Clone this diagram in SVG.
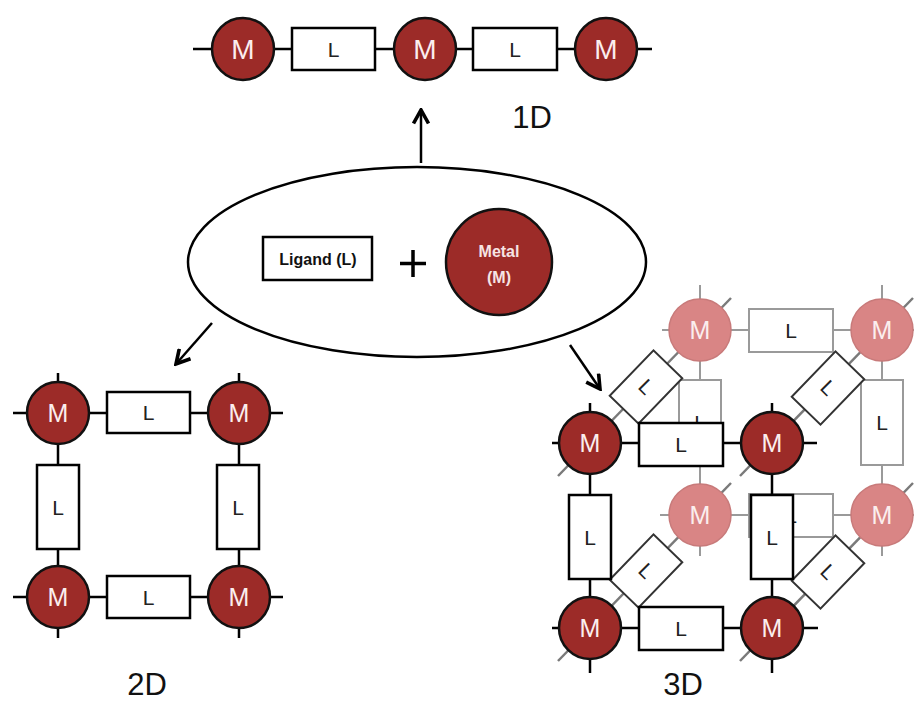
<svg xmlns="http://www.w3.org/2000/svg" width="914" height="702" viewBox="0 0 914 702">
<defs>
<style>
.bg{fill:#fff}
.blk{stroke:#000;stroke-width:2.5;fill:none}
.gry{stroke:#9a9a9a;stroke-width:2;fill:none}
.dg{stroke:#7a7a7a;stroke-width:2.5;fill:none}
.rf{fill:#fff;stroke:#000;stroke-width:2.5}
.rb{fill:#fff;stroke:#9a9a9a;stroke-width:2}
.rd{fill:#fff;stroke:#333;stroke-width:2}
.mf{fill:#9c2b28;stroke:#111;stroke-width:2.5}
.mb{fill:#d98585;stroke:#c87a7a;stroke-width:1.5}
.tm{font-family:"Liberation Sans",Arial,sans-serif;font-size:25px;fill:#fbeeee;text-anchor:middle}
.tm1{font-family:"Liberation Sans",Arial,sans-serif;font-size:28px;fill:#fbeeee;text-anchor:middle}
.tl{font-family:"Liberation Sans",Arial,sans-serif;font-size:21px;fill:#222;text-anchor:middle}
.lab{font-family:"Liberation Sans",Arial,sans-serif;font-size:31px;fill:#111;text-anchor:middle}
.bold{font-family:"Liberation Sans",Arial,sans-serif;font-weight:bold;font-size:16px;text-anchor:middle}
</style>
<marker id="ah" viewBox="0 0 12 12" refX="10.5" refY="6" markerWidth="18" markerHeight="18" markerUnits="userSpaceOnUse" orient="auto">
<path d="M1.5,1 L10.5,6 L1.5,11" fill="none" stroke="#000" stroke-width="2.4"/>
</marker>
</defs>
<rect class="bg" x="0" y="0" width="914" height="702"/>

<g id="connectors">
<line class="blk" x1="421" y1="163" x2="421" y2="110" marker-end="url(#ah)" stroke-width="3"/>
<line class="blk" x1="212" y1="323" x2="176" y2="364" marker-end="url(#ah)" stroke-width="3"/>
<line class="blk" x1="570" y1="345" x2="600" y2="389" marker-end="url(#ah)" stroke-width="3"/>
</g>

<g id="source">
<ellipse cx="417" cy="262" rx="229" ry="95" fill="#fff" stroke="#000" stroke-width="2.5"/>
<g id="ligand">
<rect x="263" y="237" width="109" height="43" fill="#fff" stroke="#000" stroke-width="2.5"/>
<text class="bold" x="318" y="265" fill="#111">Ligand (L)</text>
</g>
<g id="plus"><path d="M400,263.5 H426 M413,250 V277" stroke="#000" stroke-width="3.5"/></g>
<g id="metal">
<circle cx="499" cy="262" r="53" class="mf"/>
<text class="bold" x="499" y="257" fill="#f6e4e4">Metal</text>
<text class="bold" x="499" y="283" fill="#f6e4e4">(M)</text>
</g>
</g>

<g id="chain1D">
<line class="blk" x1="193" y1="49" x2="652" y2="49"/>
<rect class="rf" x="292" y="28" width="83" height="42"/>
<rect class="rf" x="473" y="28" width="84" height="42"/>
<text class="tl" x="333.5" y="57">L</text>
<text class="tl" x="515" y="57">L</text>
<circle class="mf" cx="243" cy="49" r="31"/>
<circle class="mf" cx="425" cy="49" r="31"/>
<circle class="mf" cx="606" cy="49" r="31"/>
<text class="tm1" x="243" y="59">M</text>
<text class="tm1" x="425" y="59">M</text>
<text class="tm1" x="606" y="59">M</text>
<text class="lab" x="532" y="128">1D</text>
</g>

<g id="grid2D">
<line class="blk" x1="13" y1="413" x2="283" y2="413"/>
<line class="blk" x1="13" y1="597" x2="283" y2="597"/>
<line class="blk" x1="58" y1="373" x2="58" y2="638"/>
<line class="blk" x1="239" y1="373" x2="239" y2="638"/>
<rect class="rf" x="107" y="392" width="83" height="41"/>
<rect class="rf" x="107" y="576" width="83" height="42"/>
<rect class="rf" x="37" y="465" width="42" height="84"/>
<rect class="rf" x="217" y="465" width="42" height="84"/>
<text class="tl" x="148.5" y="420">L</text>
<text class="tl" x="148.5" y="605">L</text>
<text class="tl" x="58" y="515">L</text>
<text class="tl" x="238" y="515">L</text>
<circle class="mf" cx="58" cy="413" r="31"/>
<circle class="mf" cx="239" cy="413" r="31"/>
<circle class="mf" cx="58" cy="597" r="31"/>
<circle class="mf" cx="239" cy="597" r="31"/>
<text class="tm" x="58" y="422">M</text>
<text class="tm" x="239" y="422">M</text>
<text class="tm" x="58" y="606">M</text>
<text class="tm" x="239" y="606">M</text>
<text class="lab" x="147" y="695">2D</text>
</g>

<g id="net3D">
<g id="back">
<line class="gry" x1="662" y1="330" x2="914" y2="330"/>
<line class="gry" x1="660" y1="515" x2="914" y2="515"/>
<line class="gry" x1="700" y1="285" x2="700" y2="556"/>
<line class="gry" x1="882" y1="285" x2="882" y2="556"/>
</g>
<g id="diaglines">
<line class="dg" x1="558" y1="476" x2="731" y2="298"/>
<line class="dg" x1="740" y1="476" x2="913" y2="298"/>
<line class="dg" x1="558" y1="661" x2="731" y2="483"/>
<line class="dg" x1="740" y1="661" x2="913" y2="483"/>
</g>
<g id="backrects">
<rect class="rb" x="749" y="309" width="84" height="43"/>
<rect class="rb" x="749" y="494" width="84" height="43"/>
<rect class="rb" x="679" y="380" width="42" height="85"/>
<rect class="rb" x="861" y="380" width="42" height="85"/>
<text class="tl" x="791" y="338">L</text>
<text class="tl" x="791" y="523">L</text>
<text class="tl" x="700" y="430">L</text>
<text class="tl" x="882" y="430">L</text>
</g>
<g id="backmetals">
<circle class="mb" cx="700" cy="330" r="31"/>
<circle class="mb" cx="882" cy="330" r="31"/>
<circle class="mb" cx="700" cy="515" r="31"/>
<circle class="mb" cx="882" cy="515" r="31"/>
<text class="tm" x="700" y="339">M</text>
<text class="tm" x="882" y="339">M</text>
<text class="tm" x="700" y="524">M</text>
<text class="tm" x="882" y="524">M</text>
</g>
<g id="diagrects">
<g transform="translate(646,387) rotate(-46)"><rect class="rd" x="-31.5" y="-20" width="63" height="40"/><text class="tl" transform="rotate(91)" x="0" y="7">L</text></g>
<g transform="translate(828,388) rotate(-46)"><rect class="rd" x="-31.5" y="-20" width="63" height="40"/><text class="tl" transform="rotate(91)" x="0" y="7">L</text></g>
<g transform="translate(646,571) rotate(-46)"><rect class="rd" x="-31.5" y="-20" width="63" height="40"/><text class="tl" transform="rotate(91)" x="0" y="7">L</text></g>
<g transform="translate(828,572) rotate(-46)"><rect class="rd" x="-31.5" y="-20" width="63" height="40"/><text class="tl" transform="rotate(91)" x="0" y="7">L</text></g>
</g>
<g id="front">
<line class="blk" x1="552" y1="443" x2="817" y2="443"/>
<line class="blk" x1="552" y1="628" x2="818" y2="628"/>
<line class="blk" x1="590" y1="403" x2="590" y2="673"/>
<line class="blk" x1="772" y1="403" x2="772" y2="673"/>
<rect class="rf" x="639" y="423" width="84" height="43"/>
<rect class="rf" x="639" y="607" width="84" height="43"/>
<rect class="rf" x="569" y="495" width="42" height="84"/>
<rect class="rf" x="751" y="495" width="42" height="84"/>
<text class="tl" x="681" y="452">L</text>
<text class="tl" x="681" y="636">L</text>
<text class="tl" x="590" y="545">L</text>
<text class="tl" x="772" y="545">L</text>
<circle class="mf" cx="590" cy="443" r="31"/>
<circle class="mf" cx="772" cy="443" r="31"/>
<circle class="mf" cx="590" cy="628" r="31"/>
<circle class="mf" cx="772" cy="628" r="31"/>
<text class="tm" x="590" y="452">M</text>
<text class="tm" x="772" y="452">M</text>
<text class="tm" x="590" y="637">M</text>
<text class="tm" x="772" y="637">M</text>
</g>
<text class="lab" x="683" y="695">3D</text>
</g>
</svg>
